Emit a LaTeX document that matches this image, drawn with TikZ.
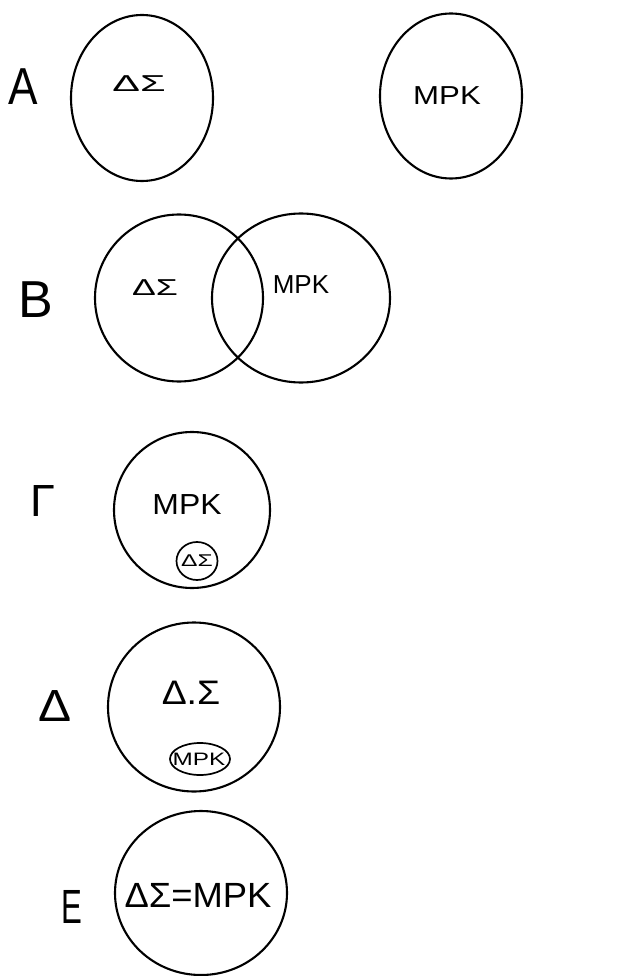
\documentclass[tikz,border=0pt]{standalone}
\usepackage{fontspec}
\setmainfont{Liberation Sans}
\usetikzlibrary{shapes.geometric}
\newcommand{\hwtext}[3]{\fontsize{#1}{#1}\selectfont\scalebox{#2}[1]{#3}}
\begin{document}
\begin{tikzpicture}[x=1pt,y=-1pt,
  setring/.style={draw, ellipse, line width=2.1pt, inner sep=0pt},
  smallring/.style={draw, ellipse, line width=1.7pt, inner sep=0pt},
  txt/.style={inner sep=0pt, anchor=center},
  lbl/.style={inner sep=0pt, anchor=center}]
\useasboundingbox (0,0) rectangle (619,976);
% Row A
\node[lbl] (la) at (23,87) {\hwtext{52}{0.85}{A}};
\node[setring, minimum width=142pt, minimum height=166pt] (a1) at (142,98) {};
\node[txt] (a1t) at (139,84) {\hwtext{23}{1.8}{ΔΣ}};
\node[setring, minimum width=142pt, minimum height=165pt] (a2) at (451,96) {};
\node[txt] (a2t) at (447,96) {\hwtext{26}{1.2}{MPK}};
% Row B
\node[lbl] (lb) at (36,300) {\hwtext{52}{1.0}{B}};
\node[setring, minimum width=168pt, minimum height=167pt] (b1) at (179,298) {};
\node[setring, minimum width=178pt, minimum height=169pt] (b2) at (301,298) {};
\node[txt] (b1t) at (155,288) {\hwtext{23}{1.55}{ΔΣ}};
\node[txt] (b2t) at (301,285) {\hwtext{26}{1.0}{MPK}};
% Row Gamma
\node[lbl] (lg) at (43,501) {\hwtext{45}{1.0}{Γ}};
\node[setring, minimum width=156pt, minimum height=156pt] (g1) at (192,510) {};
\node[txt] (g1t) at (187,505) {\hwtext{29}{1.1}{MPK}};
\node[smallring, minimum width=41pt, minimum height=38pt] (g2) at (197,561) {};
\node[txt] (g2t) at (197,561) {\hwtext{17}{1.45}{ΔΣ}};
% Row Delta
\node[lbl] (ld) at (55,706) {\hwtext{45}{1.1}{Δ}};
\node[setring, minimum width=172pt, minimum height=169pt] (d1) at (194,707) {};
\node[txt] (d1t) at (191,693) {\hwtext{34}{1.1}{Δ.Σ}};
\node[smallring, minimum width=60pt, minimum height=32pt] (d2) at (200,759) {};
\node[txt] (d2t) at (199,759) {\hwtext{18}{1.35}{MPK}};
% Row E
\node[lbl] (le) at (72,907) {\hwtext{48}{0.65}{E}};
\node[setring, minimum width=172pt, minimum height=164pt] (e1) at (201,893) {};
\node[txt] (e1t) at (198,895) {\hwtext{35}{1.04}{ΔΣ=MPK}};
\end{tikzpicture}
\end{document}
